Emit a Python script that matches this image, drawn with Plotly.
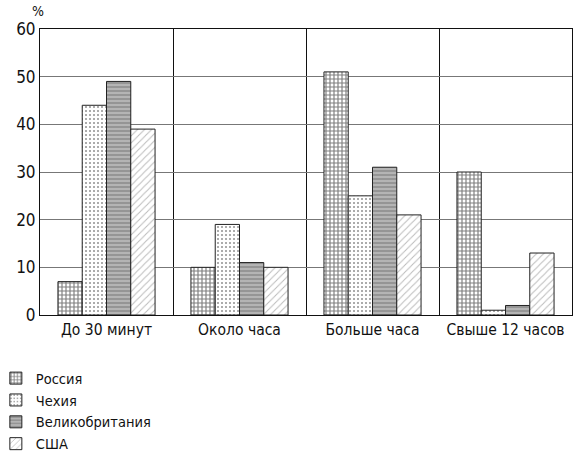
import plotly.graph_objects as go

categories = ["До 30 минут", "Около часа", "Больше часа", "Свыше 12 часов"]
russia = [7, 10, 51, 30]
czech = [44, 19, 25, 1]
uk = [49, 11, 31, 2]
usa = [39, 10, 21, 13]
y_ticks = [0, 10, 20, 30, 40, 50, 60]

FONT = "DejaVu Sans Condensed, DejaVu Sans, sans-serif"

series = [
    ("Россия", russia, dict(shape="+", fgcolor="#000", bgcolor="white", size=4, solidity=0.5)),
    ("Чехия", czech, dict(shape=".", fgcolor="#222", bgcolor="white", size=4, solidity=0.2)),
    ("Великобритания", uk, dict(shape="-", fgcolor="#666", bgcolor="#b4b4b4", size=4, solidity=0.4)),
    ("США", usa, dict(shape="/", fgcolor="#777", bgcolor="white", size=5, solidity=0.2)),
]

fig = go.Figure()
for name, vals, pat in series:
    fig.add_trace(go.Bar(
        name=name, x=categories, y=vals,
        marker=dict(color=pat["bgcolor"], line=dict(color="#222", width=1),
                    pattern=dict(shape=pat["shape"], fgcolor=pat["fgcolor"],
                                 bgcolor=pat["bgcolor"], size=pat["size"],
                                 solidity=pat["solidity"], fillmode="overlay")),
    ))

fig.update_layout(
    width=574, height=458,
    margin=dict(l=40, r=2, t=29, b=143, autoexpand=False),
    paper_bgcolor="white", plot_bgcolor="white",
    barmode="group", bargap=0.27, bargroupgap=0,
    font=dict(family=FONT, size=15, color="#111"),
    showlegend=True,
    legend=dict(x=-0.083, y=-0.165, yanchor="top", xanchor="left",
                font=dict(size=14.5, family=FONT),
                tracegroupgap=0, orientation="v", traceorder="normal",
                bgcolor="rgba(0,0,0,0)"),
    annotations=[dict(text="%", xref="paper", yref="paper", x=0, y=1.0,
                      xanchor="center", yanchor="bottom", showarrow=False,
                      font=dict(size=14, family=FONT), xshift=-2, yshift=8)],
)
fig.update_xaxes(
    type="category", tickson="boundaries", showgrid=True, gridcolor="#111", gridwidth=1,
    showline=True, linecolor="#111", linewidth=1, mirror=True, ticks="",
    tickfont=dict(size=15.5, family=FONT), automargin=False, tickangle=0,
)
fig.update_yaxes(
    range=[0, 60], tickvals=y_ticks, showgrid=True, gridcolor="#777", gridwidth=1,
    showline=True, linecolor="#111", linewidth=1, mirror=True, ticks="",
    tickfont=dict(size=17, family=FONT), zeroline=False, automargin=False,
)
fig.write_html("out.html", config={"displayModeBar": False},
               post_script="document.body.style.margin='0';document.body.style.overflow='hidden';")
